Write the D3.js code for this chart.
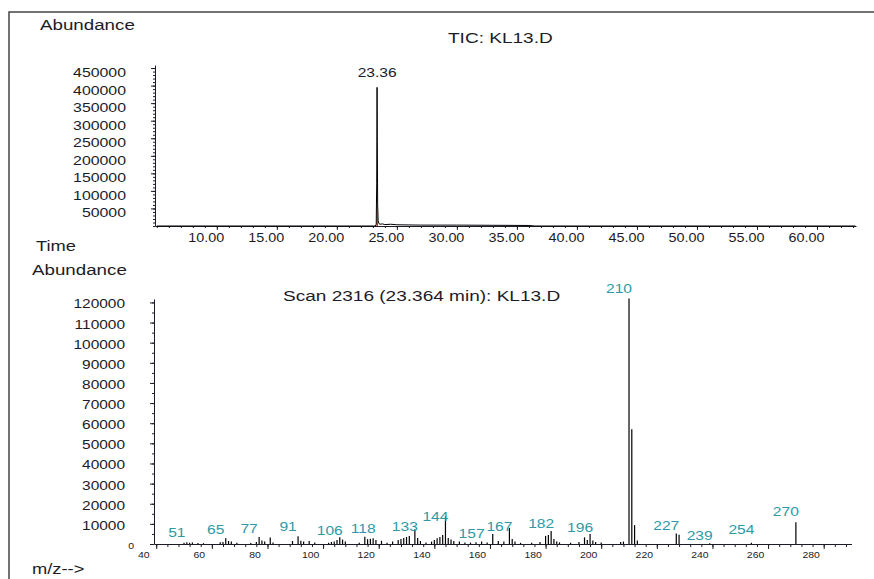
<html>

<head>
  <script src="https://d3js.org/d3.v7.min.js" charset="utf-8"></script>
  <title>TIC: KL13.D</title>
  <style>
  body {
    margin: 0;
    background-color: #fff;
  }
  svg {
    display: block;
    background-color: #fff;
  }
  text {
    font-family: "Liberation Sans", Arial, sans-serif;
  }
  </style>
</head>

<body>
  <div id="svg"></div>
  <script>

  // --- TIC (top panel) ---
  var ticTimes  = [5.00, 20.00, 23.20, 23.28, 23.32, 23.35, 23.37, 23.40, 23.44, 23.50, 23.60, 23.80, 24.00, 24.50, 25.00, 26.00, 27.00, 30.00, 33.00, 36.00, 36.50, 63.20];
  var ticValues = [0, 0, 0, 5000, 120000, 395000, 240000, 60000, 15000, 7000, 5000, 6000, 4000, 5000, 3500, 3000, 2500, 2500, 2000, 1500, 0, 0];
  // integrated (red) part of the main peak
  var redTimes  = [23.30, 23.36, 23.42];
  var redValues = [0, 65000, 0];

  var timeTicks = [10, 15, 20, 25, 30, 35, 40, 45, 50, 55, 60];
  var ticAbundTicks = [50000, 100000, 150000, 200000, 250000, 300000, 350000, 400000, 450000];

  // --- mass spectrum, scan 2316 (bottom panel) ---
  var specMz = [50, 51, 52, 53, 55, 57,
    63, 64, 65, 66, 67, 69,
    74, 76, 77, 78, 79, 81, 82,
    89, 91, 92, 93, 95, 97,
    102, 103, 104, 105, 106, 107, 108,
    113, 115, 116, 117, 118, 119, 121, 123,
    125, 127, 128, 129, 130, 131, 133, 134, 135, 137,
    139, 140, 141, 142, 143, 144, 145, 146, 147, 149, 151,
    153, 155, 157, 159, 161, 163, 165, 167, 168, 169, 171,
    175, 178, 180, 181, 182, 183, 184, 185,
    189, 192, 194, 195, 196, 197, 198, 200,
    207, 208, 210, 211, 212, 213,
    227, 228, 239, 254, 270];
  var specAbund = [600, 900, 600, 800, 500, 400,
    900, 1000, 2800, 1500, 1200, 600,
    500, 1000, 3500, 1800, 1200, 3200, 800,
    1500, 3800, 1600, 1300, 1500, 700,
    600, 1000, 1200, 2000, 3300, 2200, 1200,
    600, 3600, 2400, 2600, 2800, 2000, 1600, 600,
    1200, 2000, 2500, 3000, 3500, 4000, 7300, 3000, 1500, 800,
    1200, 2000, 2800, 3500, 4500, 13800, 3000, 2200, 1500, 1200, 800,
    700, 900, 1200, 800, 5000, 1500, 1200, 8000, 2500, 1200, 600,
    600, 1000, 4000, 4500, 6500, 2500, 1200, 800,
    600, 1000, 3300, 2000, 5000, 1800, 1000, 700,
    1000, 1200, 122000, 57000, 9400, 1800,
    5200, 4600, 400, 600, 10800];

  // labelled peaks and the abundance level the label sits on
  var labelMz    = [51, 65, 77, 91, 106, 118, 133, 144, 157, 167, 182, 196, 210, 227, 239, 254, 270];
  var labelLevel = [3300, 5000, 5500, 6300, 4600, 5500, 6600, 11600, 3000, 6600, 7900, 6000, 124600, 7100, 2100, 5000, 13700];

  var mzTicks = [40, 60, 80, 100, 120, 140, 160, 180, 200, 220, 240, 260, 280];
  var specAbundTicks = [0, 10000, 20000, 30000, 40000, 50000, 60000, 70000, 80000, 90000, 100000, 110000, 120000];

  var width = 874,
    height = 579,
    ink = "#1c1c28",
    teal = "#2e9aa6";

  var svg = d3.select("#svg").append("svg").attr("width", width).attr("height", height);

  // frame (top and left edges only)
  svg.append("path")
    .attr("d", "M9," + height + "V12H" + width)
    .attr("fill", "none")
    .attr("stroke", "#444")
    .attr("stroke-width", 1.5);

  // text helper: the original print is horizontally stretched
  function label(x, y, str, size, sx, anchor, color) {
    return svg.append("text")
      .attr("transform", "translate(" + x + "," + y + ") scale(" + sx + ",1)")
      .attr("font-size", size)
      .attr("text-anchor", anchor || "start")
      .attr("fill", color || ink)
      .text(str);
  }

  function styleTicks(g, size, sx, dx, dy) {
    g.attr("font-family", null).attr("font-size", null);
    g.selectAll("path, line").attr("stroke", ink);
    g.selectAll("text")
      .attr("x", null).attr("y", null)
      .attr("fill", ink)
      .attr("font-size", size)
      .attr("transform", "translate(" + dx + "," + dy + ") scale(" + sx + ",1)");
  }

  // ---------- top panel ----------
  var xTop = d3.scaleLinear().domain([4.85, 63.25]).range([155, 856]);
  var yTop = d3.scaleLinear().domain([0, 458700]).range([226, 65]);

  label(40, 30, "Abundance", 15, 1.25);
  label(448, 43, "TIC: KL13.D", 15, 1.27);
  label(36, 251, "Time", 15, 1.22);

  svg.append("g").attr("transform", "translate(0,226)")
    .call(d3.axisBottom(xTop).tickValues(d3.range(5, 64, 1)).tickSize(2).tickSizeOuter(0).tickFormat(""))
    .call(function(g) { styleTicks(g, 12, 1, 0, 0); });

  var gxTop = svg.append("g").attr("transform", "translate(0,226)")
    .call(d3.axisBottom(xTop).tickValues(timeTicks).tickSize(4).tickSizeOuter(0).tickFormat(d3.format(".2f")));
  gxTop.select(".domain").remove();
  gxTop.selectAll("text").attr("dy", null);
  styleTicks(gxTop, 12.5, 1.15, -11, 15.5);

  svg.append("g").attr("transform", "translate(155,0)")
    .call(d3.axisLeft(yTop).tickValues(d3.range(0, 458001, 10000)).tickSize(2).tickSizeOuter(0).tickFormat(""))
    .call(function(g) { styleTicks(g, 12, 1, 0, 0); });

  var gyTop = svg.append("g").attr("transform", "translate(155,0)")
    .call(d3.axisLeft(yTop).tickValues(ticAbundTicks).tickSize(4).tickSizeOuter(0).tickFormat(d3.format("d")));
  gyTop.select(".domain").remove();
  gyTop.selectAll("text").attr("dy", null);
  styleTicks(gyTop, 12.5, 1.27, -29, 8.5);

  var idx = d3.range(ticTimes.length);
  svg.append("path")
    .attr("d", d3.area()
      .x(function(i) { return xTop(redTimes[i]); })
      .y0(yTop(0))
      .y1(function(i) { return yTop(redValues[i]); })(d3.range(redTimes.length)))
    .attr("fill", "#b01818");

  svg.append("path")
    .attr("d", d3.line()
      .x(function(i) { return xTop(ticTimes[i]); })
      .y(function(i) { return yTop(ticValues[i]); })(idx))
    .attr("fill", "none")
    .attr("stroke", "#000")
    .attr("stroke-width", 1);

  label(xTop(23.36), 77, "23.36", 13, 1.2, "middle");

  // ---------- bottom panel ----------
  var xBot = d3.scaleLinear().domain([39.2, 290]).range([154, 851.5]);
  var yBot = d3.scaleLinear().domain([0, 121700]).range([544, 299]);

  label(32, 275, "Abundance", 15, 1.25);
  label(283, 301, "Scan 2316 (23.364 min): KL13.D", 15, 1.27);
  label(32, 574, "m/z-->", 15, 1.22);

  svg.append("g").attr("transform", "translate(0,544)")
    .call(d3.axisBottom(xBot).tickValues(d3.range(40, 290, 4)).tickSize(3).tickSizeOuter(0).tickFormat(""))
    .call(function(g) { styleTicks(g, 9, 1, 0, 0); });

  var gxBot = svg.append("g").attr("transform", "translate(0,544)")
    .call(d3.axisBottom(xBot).tickValues(mzTicks).tickSize(5).tickSizeOuter(0));
  gxBot.select(".domain").remove();
  gxBot.selectAll("text").attr("dy", null);
  styleTicks(gxBot, 9.5, 1.1, -13, 14);

  svg.append("g").attr("transform", "translate(154,0)")
    .call(d3.axisLeft(yBot).tickValues(d3.range(0, 121001, 5000)).tickSize(2).tickSizeOuter(0).tickFormat(""))
    .call(function(g) { styleTicks(g, 9, 1, 0, 0); });

  var gyBot = svg.append("g").attr("transform", "translate(154,0)")
    .call(d3.axisLeft(yBot).tickValues(specAbundTicks).tickSize(4).tickSizeOuter(0).tickFormat(d3.format("d")));
  gyBot.select(".domain").remove();
  gyBot.selectAll("text").attr("dy", null);
  styleTicks(gyBot, 13, 1.19, -29, 5.5);
  // the zero label is printed small, next to the origin
  gyBot.selectAll(".tick").filter(function(d) { return d === 0; }).select("text")
    .attr("font-size", 9.5)
    .attr("transform", "translate(-20,4) scale(1.1,1)");

  svg.selectAll(".peak").data(d3.range(specMz.length)).enter()
    .append("line")
    .attr("class", "peak")
    .attr("x1", function(i) { return xBot(specMz[i]); })
    .attr("x2", function(i) { return xBot(specMz[i]); })
    .attr("y1", yBot(0))
    .attr("y2", function(i) { return yBot(specAbund[i]); })
    .attr("stroke", "#000")
    .attr("stroke-width", 1.2);

  svg.selectAll(".mzlabel").data(d3.range(labelMz.length)).enter()
    .append("text")
    .attr("class", "mzlabel")
    .attr("transform", function(i) {
      return "translate(" + (xBot(labelMz[i]) - 10) + "," + yBot(labelLevel[i]) + ") scale(1.2,1)";
    })
    .attr("font-size", 13)
    .attr("text-anchor", "middle")
    .attr("fill", teal)
    .text(function(i) { return labelMz[i]; });

  </script>
</body>

</html>
